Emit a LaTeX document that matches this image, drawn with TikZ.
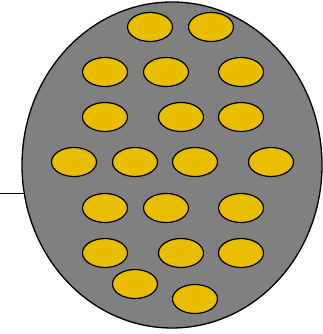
\documentclass[tikz,border=0pt]{standalone}
\usetikzlibrary{shapes.geometric}
\definecolor{bodygray}{HTML}{808080}
\definecolor{seedyellow}{HTML}{E9BD00}
\tikzset{
  body/.style={ellipse, draw=black, fill=bodygray, line width=1.3pt, minimum width=300pt, minimum height=326pt, inner sep=0pt},
  seed/.style={ellipse, draw=black, fill=seedyellow, line width=1.2pt, minimum width=45pt, minimum height=29pt, inner sep=0pt},
  wire/.style={draw=black, line width=0.8pt}
}
\begin{document}
\begin{tikzpicture}[x=1pt,y=-1pt]
\useasboundingbox (0,0) rectangle (322,334);
\coordinate (lend) at (0,193);
\coordinate (bodyc) at (172,165);
\draw[wire] (lend) -- (lend -| bodyc);
\node[body] (big) at (bodyc) {};
% row 1
\node[seed] (s1) at (150,27) {};
\node[seed] (s2) at (211,27) {};
% row 2
\node[seed] (s3) at (105,72) {};
\node[seed] (s4) at (166,72) {};
\node[seed] (s5) at (241,72) {};
% row 3
\node[seed] (s6) at (105,117) {};
\node[seed] (s7) at (181,117) {};
\node[seed] (s8) at (241,117) {};
% row 4
\node[seed] (s9) at (74,162) {};
\node[seed] (s10) at (135,162) {};
\node[seed] (s11) at (195,162) {};
\node[seed] (s12) at (271,162) {};
% row 5
\node[seed] (s13) at (105,208) {};
\node[seed] (s14) at (166,208) {};
\node[seed] (s15) at (241,208) {};
% row 6
\node[seed] (s16) at (105,253) {};
\node[seed] (s17) at (181,253) {};
\node[seed] (s18) at (241,253) {};
% row 7
\node[seed] (s19) at (135,284) {};
\node[seed] (s20) at (195,299) {};
\end{tikzpicture}
\end{document}
